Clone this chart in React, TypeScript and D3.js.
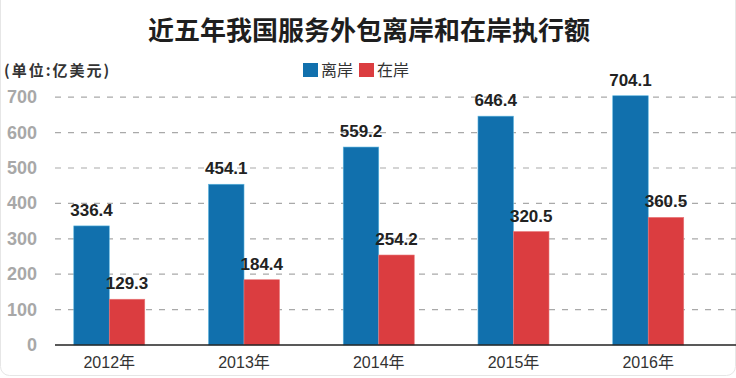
import React from "react";
import * as d3 from "d3";

const title = "近五年我国服务外包离岸和在岸执行额";
const unitLabel = "(单位:亿美元)";
const years = ["2012年", "2013年", "2014年", "2015年", "2016年"];
const seriesNames = ["离岸", "在岸"];
const offshore = [336.4, 454.1, 559.2, 646.4, 704.1];
const onshore = [129.3, 184.4, 254.2, 320.5, 360.5];
const yTicks = [0, 100, 200, 300, 400, 500, 600, 700];

const W = 736;
const H = 378;
const colors = ["#1170ad", "#db3d40"];
const strokes = ["#5ab4de", "#e97779"];

export default function App() {
  const y = d3.scaleLinear().domain([0, 700]).range([345, 97.2]);
  const x0 = d3.scaleBand<string>().domain(years).range([41.9, 715.6]).padding(0);
  const barW = 35.5;
  const x1 = d3
    .scaleBand<string>()
    .domain(seriesNames)
    .range([x0.bandwidth() / 2 - barW, x0.bandwidth() / 2 + barW])
    .padding(0);
  const values = [offshore, onshore];
  const font = "'Liberation Sans', Arial, 'Noto Sans CJK SC', sans-serif";
  const cjk = "'Noto Sans CJK SC', 'Liberation Sans', sans-serif";

  return (
    <div style={{ position: "absolute", left: 0, top: 0 }}>
      <svg width={W} height={H} style={{ display: "block", background: "#fff" }}>
        <rect x={0.5} y={-20} width={W - 1} height={H + 20 - 2.5} rx={9} fill="#fff" stroke="#e6e6e6" strokeWidth={1} />
        <text x={369} y={40} textAnchor="middle" fontFamily={cjk} fontWeight={700} fontSize={26} fill="#1e1e1e">
          {title}
        </text>
        <text x={4} y={76} fontFamily={cjk} fontWeight={700} fontSize={15} letterSpacing={2} fill="#333">
          {unitLabel}
        </text>
        {seriesNames.map((s, i) => {
          const lx = 303 + i * 56;
          return (
            <g key={s}>
              <rect x={lx} y={63} width={15} height={14} fill={colors[i]} />
              <text x={lx + 18} y={76} fontFamily={cjk} fontSize={16} fill="#333">
                {s}
              </text>
            </g>
          );
        })}
        {yTicks.map((t) => (
          <g key={t}>
            {t > 0 && (
              <line x1={55} x2={W} y1={y(t)} y2={y(t)} stroke="#a9a9a9" strokeWidth={1.2} strokeDasharray="6 7" />
            )}
            <text x={37} y={y(t) + 6} textAnchor="end" fontFamily={font} fontWeight={700} fontSize={18} fill="#a8a8a8">
              {t}
            </text>
          </g>
        ))}
        {years.map((yr, gi) => (
          <g key={yr} transform={`translate(${x0(yr)},0)`}>
            {seriesNames.map((s, si) => {
              const v = values[si][gi];
              const bx = x1(s) as number;
              return (
                <g key={s}>
                  <rect x={bx} y={y(v)} width={x1.bandwidth()} height={y(0) - y(v)} fill={colors[si]} stroke={strokes[si]} strokeWidth={0.6} />
                  <text x={bx + x1.bandwidth() / 2} y={y(v) - 10} textAnchor="middle" fontFamily={font} fontWeight={700} fontSize={17} fill="#222">
                    {v.toFixed(1)}
                  </text>
                </g>
              );
            })}
            <text x={x0.bandwidth() / 2} y={368} textAnchor="middle" fontFamily={font} fontSize={16} fill="#333">
              {yr}
            </text>
          </g>
        ))}
        <line x1={55} x2={W} y1={y(0)} y2={y(0)} stroke="#222" strokeWidth={1.6} />
      </svg>
    </div>
  );
}
